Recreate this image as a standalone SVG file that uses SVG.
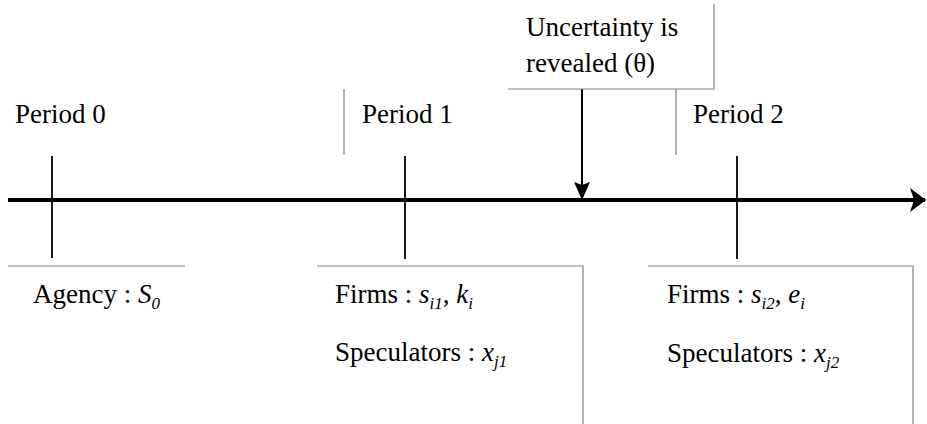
<svg xmlns="http://www.w3.org/2000/svg" width="927" height="424" viewBox="0 0 927 424">
<defs>
<marker id="ah" viewBox="0 0 16 24" refX="15" refY="12" markerWidth="16" markerHeight="24" markerUnits="userSpaceOnUse" orient="auto">
<path d="M0,0 L16,12 L0,24 L4,12 Z" fill="#000"/>
</marker>
<marker id="ah2" viewBox="0 0 18 16" refX="17" refY="8" markerWidth="18" markerHeight="16" markerUnits="userSpaceOnUse" orient="auto">
<path d="M0,0 L18,8 L0,16 L3,8 Z" fill="#000"/>
</marker>
</defs>
<rect width="927" height="424" fill="#fff"/>
<g id="connectors">
<line x1="8" y1="200" x2="925" y2="200" stroke="#000" stroke-width="4" marker-end="url(#ah)"/>
<line x1="52" y1="156" x2="52" y2="258" stroke="#000" stroke-width="1.8"/>
<line x1="405" y1="156" x2="405" y2="259" stroke="#000" stroke-width="1.8"/>
<line x1="737" y1="156" x2="737" y2="259" stroke="#000" stroke-width="1.8"/>
<line x1="582" y1="89" x2="582" y2="199" stroke="#000" stroke-width="2" marker-end="url(#ah2)"/>
</g>
<g id="period0">
<text x="15" y="123" font-family="Liberation Serif" font-size="27">Period 0</text>
</g>
<g id="period1">
<line x1="344" y1="89" x2="344" y2="155" stroke="#808080" stroke-width="1.2"/>
<text x="362" y="123" font-family="Liberation Serif" font-size="27">Period 1</text>
</g>
<g id="uncertainty">
<polyline points="508,89 714,89 714,4" fill="none" stroke="#808080" stroke-width="1.2"/>
<text x="526" y="36" font-family="Liberation Serif" font-size="27">Uncertainty is</text>
<text x="526" y="72" font-family="Liberation Serif" font-size="27">revealed (θ)</text>
</g>
<g id="period2">
<line x1="676" y1="89" x2="676" y2="155" stroke="#808080" stroke-width="1.2"/>
<text x="693" y="123" font-family="Liberation Serif" font-size="27">Period 2</text>
</g>
<g id="agency">
<line x1="8" y1="266" x2="185" y2="266" stroke="#808080" stroke-width="1.2"/>
<text x="33" y="303" font-family="Liberation Serif" font-size="27">Agency : <tspan font-style="italic">S</tspan><tspan font-style="italic" font-size="17" dy="6">0</tspan></text>
</g>
<g id="actions1">
<polyline points="317,266 583,266 583,424" fill="none" stroke="#808080" stroke-width="1.2"/>
<text x="335" y="303" font-family="Liberation Serif" font-size="27">Firms : <tspan font-style="italic">s</tspan><tspan font-style="italic" font-size="17" dy="6">i1</tspan><tspan dy="-6">, </tspan><tspan font-style="italic">k</tspan><tspan font-style="italic" font-size="17" dy="6">i</tspan></text>
<text x="335" y="361" font-family="Liberation Serif" font-size="27">Speculators : <tspan font-style="italic">x</tspan><tspan font-style="italic" font-size="17" dy="6">j1</tspan></text>
</g>
<g id="actions2">
<polyline points="648,266 913,266 913,424" fill="none" stroke="#808080" stroke-width="1.2"/>
<text x="667" y="303" font-family="Liberation Serif" font-size="27">Firms : <tspan font-style="italic">s</tspan><tspan font-style="italic" font-size="17" dy="6">i2</tspan><tspan dy="-6">, </tspan><tspan font-style="italic">e</tspan><tspan font-style="italic" font-size="17" dy="6">i</tspan></text>
<text x="667" y="362" font-family="Liberation Serif" font-size="27">Speculators : <tspan font-style="italic">x</tspan><tspan font-style="italic" font-size="17" dy="6">j2</tspan></text>
</g>
</svg>
